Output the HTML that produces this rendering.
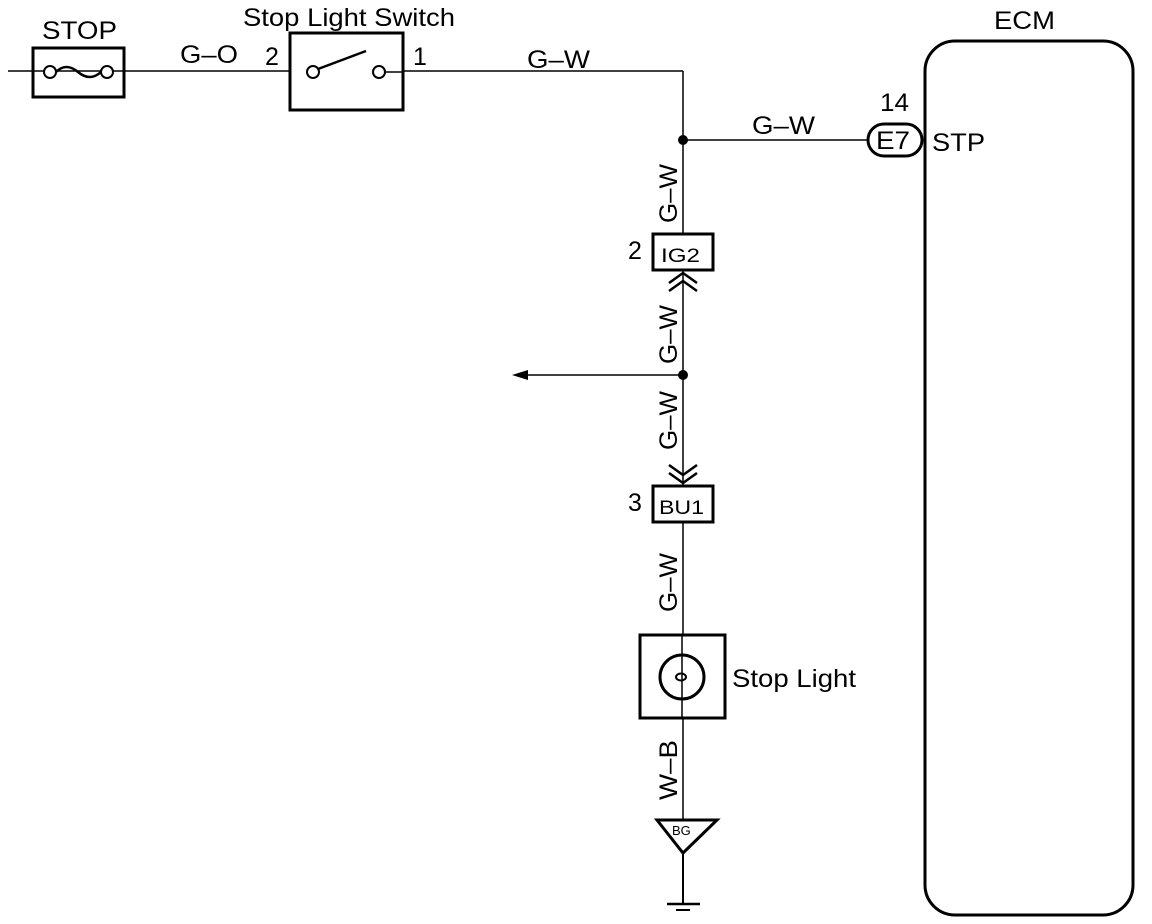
<!DOCTYPE html>
<html><head><meta charset="utf-8"><style>
html,body{margin:0;padding:0;background:#fff}
svg{display:block}
text{font-family:"Liberation Sans",Arial,sans-serif;fill:#000}
</style></head><body>
<svg width="1152" height="924" viewBox="0 0 1152 924" xmlns="http://www.w3.org/2000/svg">
<g stroke="#000" fill="none">
 <line x1="8" y1="71" x2="290" y2="71" stroke-width="1.5"/>
 <line x1="403" y1="71" x2="683" y2="71" stroke-width="1.5"/>
 <rect x="33" y="48" width="91" height="49" stroke-width="3"/>
 <circle cx="50" cy="72" r="6" stroke-width="2" fill="#fff"/>
 <circle cx="107" cy="72" r="6" stroke-width="2" fill="#fff"/>
 <path d="M56 72 Q66 62 78 72 Q90 82 101 72" stroke-width="2.5"/>
 <rect x="290" y="33" width="113" height="77" stroke-width="3"/>
 <circle cx="313" cy="72" r="6" stroke-width="2" fill="#fff"/>
 <circle cx="379" cy="72" r="6" stroke-width="2" fill="#fff"/>
 <line x1="318" y1="69" x2="366" y2="51" stroke-width="2.5"/>
 <line x1="385" y1="72" x2="403" y2="72" stroke-width="1.5"/>
 <line x1="683" y1="71" x2="683" y2="234" stroke-width="1.5"/>
 <line x1="683" y1="140" x2="868" y2="140" stroke-width="1.5"/>
 <rect x="868" y="124" width="54" height="32" rx="16" stroke-width="3"/>
 <rect x="925" y="41" width="208" height="874" rx="30" stroke-width="3"/>
 <rect x="653" y="234" width="60" height="36" stroke-width="3"/>
 <line x1="683" y1="270" x2="683" y2="486" stroke-width="1.5"/>
 <path d="M669 283 L683 273 L697 283 M669 291 L683 281 L697 291" stroke-width="2.5"/>
 <line x1="520" y1="375" x2="683" y2="375" stroke-width="1.5"/>
 <path d="M512 375 L528 370 L528 380 Z" fill="#000" stroke="none"/>
 <path d="M669 465 L683 475 L697 465 M669 473 L683 483 L697 473" stroke-width="2.5"/>
 <rect x="653" y="486" width="60" height="36" stroke-width="3"/>
 <line x1="683" y1="522" x2="683" y2="635" stroke-width="1.5"/>
 <rect x="640" y="635" width="85" height="83" stroke-width="3"/>
 <circle cx="682" cy="677" r="22" stroke-width="3"/>
 <line x1="682" y1="635" x2="682" y2="718" stroke-width="1.5"/>
 <ellipse cx="681" cy="677" rx="5" ry="3.5" stroke-width="2"/>
 <line x1="683" y1="718" x2="683" y2="820" stroke-width="1.5"/>
 <path d="M657 820 L717 820 L683 853 Z" stroke-width="3"/>
 <line x1="683" y1="853" x2="683" y2="904" stroke-width="2"/>
 <line x1="667" y1="904" x2="700" y2="904" stroke-width="2.5"/>
 <line x1="676" y1="910" x2="690" y2="910" stroke-width="2"/>
</g>
<circle cx="683" cy="140" r="5" fill="#000"/>
<circle cx="683" cy="375" r="5" fill="#000"/>
<g font-size="25" lengthAdjust="spacingAndGlyphs">
 <text x="42" y="39" textLength="75" lengthAdjust="spacingAndGlyphs">STOP</text>
 <text x="243" y="26" textLength="212" lengthAdjust="spacingAndGlyphs">Stop Light Switch</text>
 <text x="180" y="63" textLength="58" lengthAdjust="spacingAndGlyphs">G–O</text>
 <text x="265" y="65">2</text>
 <text x="413" y="65">1</text>
 <text x="527" y="68" textLength="63" lengthAdjust="spacingAndGlyphs">G–W</text>
 <text x="752" y="134" textLength="63" lengthAdjust="spacingAndGlyphs">G–W</text>
 <text x="880" y="111" textLength="29" lengthAdjust="spacingAndGlyphs">14</text>
 <text x="876" y="149" textLength="34" lengthAdjust="spacingAndGlyphs">E7</text>
 <text x="932" y="151" textLength="53" lengthAdjust="spacingAndGlyphs">STP</text>
 <text x="994" y="29" textLength="61" lengthAdjust="spacingAndGlyphs">ECM</text>
 <text x="628" y="259">2</text>
 <text x="628" y="511">3</text>
 <text x="732" y="687" textLength="124" lengthAdjust="spacingAndGlyphs">Stop Light</text>
</g>
<g font-size="19">
 <text x="661" y="262" textLength="39" lengthAdjust="spacingAndGlyphs">IG2</text>
 <text x="659" y="514" textLength="45" lengthAdjust="spacingAndGlyphs">BU1</text>
</g>
<text x="672" y="835" font-size="13">BG</text>
<g font-size="25">
 <text transform="translate(677,223) rotate(-90)" textLength="59" lengthAdjust="spacingAndGlyphs">G–W</text>
 <text transform="translate(677,364) rotate(-90)" textLength="59" lengthAdjust="spacingAndGlyphs">G–W</text>
 <text transform="translate(677,450) rotate(-90)" textLength="59" lengthAdjust="spacingAndGlyphs">G–W</text>
 <text transform="translate(677,612) rotate(-90)" textLength="59" lengthAdjust="spacingAndGlyphs">G–W</text>
 <text transform="translate(677,800) rotate(-90)" textLength="60" lengthAdjust="spacingAndGlyphs">W–B</text>
</g>
</svg>
</body></html>
